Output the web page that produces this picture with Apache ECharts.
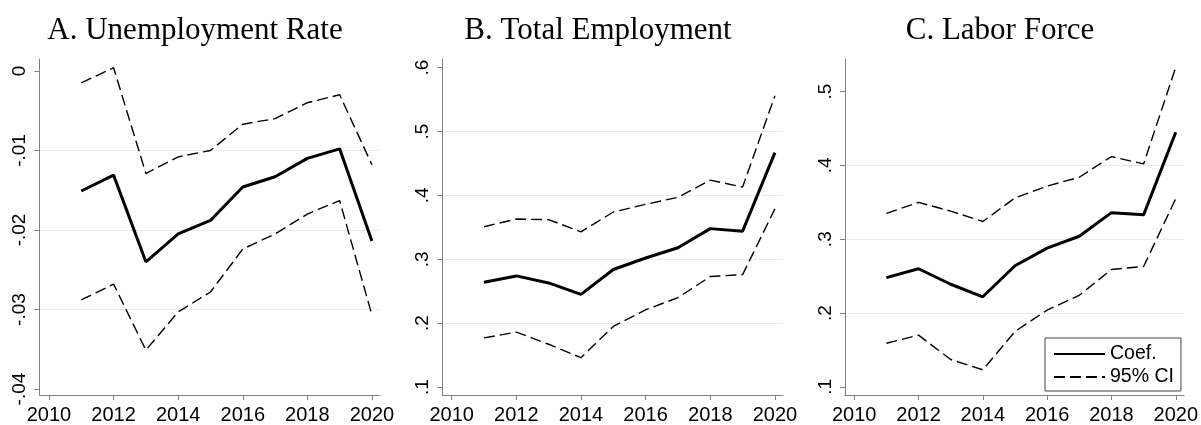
<!DOCTYPE html>
<html>
<head>
<meta charset="utf-8">
<script src="https://cdn.jsdelivr.net/npm/echarts@6/dist/echarts.min.js"></script>
<style>
  html, body { margin: 0; padding: 0; background: #fff; }
  #chart { width: 1201px; height: 425px; }
</style>
</head>
<body>
<div id="chart"></div>
<script>
// data
var years = [2011, 2012, 2013, 2014, 2015, 2016, 2017, 2018, 2019, 2020];
var xTicks = [2010, 2012, 2014, 2016, 2018, 2020];

var unempCoef  = [-0.0151, -0.0131, -0.0240, -0.0205, -0.0188, -0.0146, -0.0133, -0.0110, -0.0098, -0.0214];
var unempUpper = [-0.0015, 0.0004, -0.0129, -0.0108, -0.0100, -0.0067, -0.0060, -0.0040, -0.0030, -0.0118];
var unempLower = [-0.0288, -0.0268, -0.0351, -0.0303, -0.0278, -0.0224, -0.0205, -0.0180, -0.0163, -0.0307];
var unempTicks = [-0.04, -0.03, -0.02, -0.01, 0];

var emplCoef  = [0.264, 0.274, 0.263, 0.245, 0.284, 0.302, 0.318, 0.348, 0.344, 0.467];
var emplUpper = [0.351, 0.363, 0.362, 0.343, 0.374, 0.386, 0.397, 0.424, 0.413, 0.556];
var emplLower = [0.177, 0.186, 0.167, 0.146, 0.195, 0.221, 0.240, 0.273, 0.276, 0.379];
var emplTicks = [0.1, 0.2, 0.3, 0.4, 0.5, 0.6];

var lfCoef  = [0.248, 0.260, 0.239, 0.222, 0.264, 0.288, 0.304, 0.336, 0.333, 0.445];
var lfUpper = [0.335, 0.350, 0.338, 0.324, 0.356, 0.372, 0.384, 0.412, 0.402, 0.533];
var lfLower = [0.159, 0.170, 0.137, 0.123, 0.175, 0.204, 0.224, 0.259, 0.263, 0.355];
var lfTicks = [0.1, 0.2, 0.3, 0.4, 0.5];

var titles = ['A. Unemployment Rate', 'B. Total Employment', 'C. Labor Force'];

var chart = echarts.init(document.getElementById('chart'));

var axisGray = '#808080';
var sans = 'Liberation Sans';

function pairs(vals) {
  return years.map(function (y, i) { return [y, vals[i]]; });
}

function fmtY(v) {
  // stata style: .5, -.01
  var s = String(Math.round(v * 1000) / 1000);
  return s.replace(/^0\./, '.').replace(/^-0\./, '-.');
}

var panels = [
  { left: 39.5, right: 380, xMin: 2009.706, xMax: 2020.25, yMin: -0.04075, yMax: 0.0015, step: 0.01, ticks: unempTicks, c: unempCoef, u: unempUpper, l: unempLower },
  { left: 442.3, right: 783, xMin: 2009.71, xMax: 2020.25, yMin: 0.0876, yMax: 0.6135, step: 0.1, ticks: emplTicks, c: emplCoef, u: emplUpper, l: emplLower },
  { left: 845, right: 1186.7, xMin: 2009.713, xMax: 2020.26, yMin: 0.0889, yMax: 0.5442, step: 0.1, ticks: lfTicks, c: lfCoef, u: lfUpper, l: lfLower }
];
var titleCenters = [195, 598, 1000];

var grid = [], xAxis = [], yAxis = [], series = [], title = [];

panels.forEach(function (p, i) {
  grid.push({ left: p.left, width: p.right - p.left, top: 59, bottom: 425 - 397 });
  title.push({
    text: titles[i], left: titleCenters[i], top: 15, textAlign: 'center', padding: 0,
    textStyle: { fontFamily: 'Liberation Serif', fontSize: 31, fontWeight: 'normal', color: '#000' }
  });
  xAxis.push({
    type: 'value', gridIndex: i, min: p.xMin, max: p.xMax, minInterval: 2, maxInterval: 2,
    axisLine: { show: true, onZero: false, lineStyle: { color: axisGray, width: 1 } },
    axisTick: { show: true, length: 5, customValues: xTicks, lineStyle: { color: axisGray } },
    axisLabel: { customValues: xTicks, margin: 10, fontFamily: sans, fontSize: 20, color: '#000',
      formatter: function (v) { return String(v); } },
    splitLine: { show: false }
  });
  yAxis.push({
    type: 'value', gridIndex: i, min: p.yMin, max: p.yMax, minInterval: p.step, maxInterval: p.step,
    axisLine: { show: true, onZero: false, lineStyle: { color: axisGray, width: 1 } },
    axisTick: { show: true, length: 5, customValues: p.ticks, lineStyle: { color: axisGray } },
    axisLabel: { customValues: p.ticks, rotate: 90, margin: 10, fontFamily: sans, fontSize: 19, color: '#000', formatter: fmtY },
    splitLine: { show: true, showMinLine: false, showMaxLine: false, lineStyle: { color: '#ebebeb', width: 1 } }
  });
  series.push({
    name: 'Coef.', type: 'line', xAxisIndex: i, yAxisIndex: i, data: pairs(p.c),
    symbol: 'none', color: '#000', lineStyle: { color: '#000', width: 3 }, z: 3
  });
  series.push({
    name: '95% CI', type: 'line', xAxisIndex: i, yAxisIndex: i, data: pairs(p.u),
    symbol: 'none', color: '#000', lineStyle: { color: '#000', width: 1.4, type: [11, 5] }
  });
  series.push({
    name: '95% CI', type: 'line', xAxisIndex: i, yAxisIndex: i, data: pairs(p.l),
    symbol: 'none', color: '#000', lineStyle: { color: '#000', width: 1.4, type: [11, 5] }
  });
});

var option = {
  animation: false,
  backgroundColor: '#fff',
  title: title,
  grid: grid,
  xAxis: xAxis,
  yAxis: yAxis,
  legend: {
    data: ['Coef.', '95% CI'],
    orient: 'vertical',
    left: 1045, top: 338,
    padding: [6, 7, 4, 8],
    itemWidth: 51, itemHeight: 16, itemGap: 3, itemTextGap: 8,
    itemStyle: { opacity: 0 },
    borderColor: '#444', borderWidth: 1,
    textStyle: { fontFamily: sans, fontSize: 19.5, color: '#000' }
  },
  series: series
};

chart.setOption(option);
</script>
</body>
</html>
